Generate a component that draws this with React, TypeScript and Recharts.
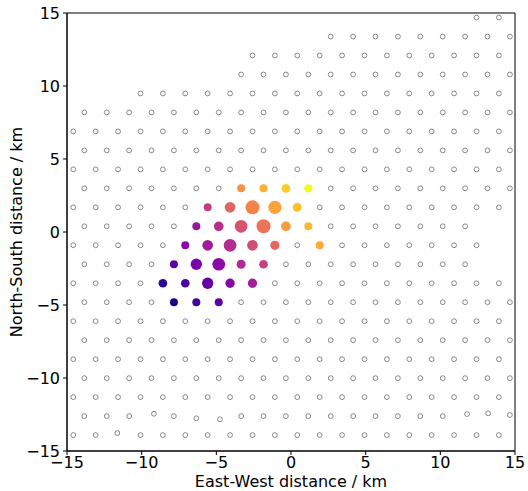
import React from 'react'
import { ScatterChart, Scatter, XAxis, YAxis, ZAxis, Cell, ReferenceArea } from 'recharts'

// lattice columns (km) of the array, odd / even rows are offset by half a step
const oddRowX = [-14.58, -13.08, -11.58, -10.08, -8.58, -7.08, -5.58, -4.08, -2.58, -1.08, 0.42, 1.92, 3.42, 4.92, 6.42, 7.92, 9.42, 10.92, 12.42, 13.92]
const evenRowX = [-13.84, -12.34, -10.84, -9.34, -7.84, -6.34, -4.84, -3.34, -1.84, -0.34, 1.16, 2.66, 4.16, 5.66, 7.16, 8.66, 10.16, 11.66, 13.16, 14.66]

// stations without signal, row by row (north to south)
const stationRows: { y: number; xs: number[] }[] = [
  { y: 14.69, xs: [12.42, 13.92] },
  { y: 13.39, xs: [2.66, 4.16, 5.66, 7.16, 8.66, 10.16, 11.66, 13.16, 14.66] },
  { y: 12.09, xs: [-2.58, -1.08, 0.42, 1.92, 3.42, 4.92, 6.42, 7.92, 9.42, 10.92, 12.42, 13.92] },
  { y: 10.79, xs: [-3.34, -1.84, -0.34, 1.16, 2.66, 4.16, 5.66, 7.16, 8.66, 10.16, 11.66, 13.16, 14.66] },
  { y: 9.49, xs: [-10.08, -8.58, -7.08, -5.58, -4.08, -2.58, -1.08, 0.42, 1.92, 3.42, 4.92, 6.42, 7.92, 9.42, 10.92, 12.42, 13.92] },
  { y: 8.19, xs: evenRowX },
  { y: 6.89, xs: oddRowX },
  { y: 5.59, xs: evenRowX },
  { y: 4.29, xs: oddRowX },
  { y: 2.99, xs: [-13.84, -12.34, -10.84, -9.34, -7.84, -6.34, -4.84, 2.66, 4.16, 5.66, 7.16, 8.66, 10.16, 11.66, 13.16, 14.66] },
  { y: 1.69, xs: [-14.58, -13.08, -11.58, -10.08, -8.58, -7.08, 1.92, 3.42, 4.92, 6.42, 7.92, 9.42, 10.92, 12.42, 13.92] },
  { y: 0.39, xs: [-13.84, -12.34, -10.84, -9.34, -7.84, 2.66, 4.16, 5.66, 7.16, 8.66, 10.16, 11.66] },
  { y: -0.91, xs: [-14.58, -13.08, -11.58, -10.08, -8.58, 0.42, 3.42, 4.92, 6.42, 7.92, 9.42, 10.92, 12.42] },
  { y: -2.21, xs: [-13.84, -12.34, -10.84, -9.34, -0.34, 1.16, 2.66, 4.16, 5.66, 7.16, 8.66, 10.16, 11.66] },
  { y: -3.51, xs: [-14.58, -13.08, -11.58, -10.08, -1.08, 0.42, 1.92, 3.42, 4.92, 6.42, 7.92, 9.42, 10.92, 12.42, 13.92] },
  { y: -4.81, xs: [-13.84, -12.34, -10.84, -9.34, -3.34, -1.84, -0.34, 1.16, 2.66, 4.16, 5.66, 7.16, 8.66, 10.16, 11.66, 13.16, 14.66] },
  { y: -6.11, xs: oddRowX },
  { y: -7.41, xs: evenRowX },
  { y: -8.71, xs: oddRowX },
  { y: -10.01, xs: evenRowX },
  { y: -11.31, xs: oddRowX },
  { y: -12.61, xs: [-13.84, -12.34, -10.84, -7.84, -3.34, -1.84, -0.34, 1.16, 2.66, 4.16, 5.66, 7.16, 8.66, 10.16] },
  { y: -13.91, xs: [-14.58, -13.08, -10.08, -8.58, -7.08, -5.58, -4.08, -2.58, -1.08, 0.42, 1.92, 3.42, 4.92, 6.42, 7.92, 9.42, 10.92, 12.42, 13.92] },
]

// stations slightly off the lattice
const offLattice: [number, number][] = [
  [-9.18, -12.45], [-6.34, -12.76], [-4.76, -12.83], [11.79, -12.47],
  [13.2, -12.42], [14.66, -12.53], [-11.63, -13.77],
]

// triggered stations: x, y (km), arrival value (0..1), amplitude
const hitX = [
  -3.34, -1.84, -0.34, 1.16,
  -5.58, -4.08, -2.58, -1.08, 0.42,
  -6.34, -4.84, -3.34, -1.84, -0.34, 1.16,
  -7.08, -5.58, -4.08, -2.58, -1.08, 1.92,
  -7.84, -6.34, -4.84, -3.34, -1.84,
  -8.58, -7.08, -5.58, -4.08, -2.58,
  -7.84, -6.34, -4.84,
]
const hitY = [
  2.99, 2.99, 2.99, 2.99,
  1.69, 1.69, 1.69, 1.69, 1.69,
  0.39, 0.39, 0.39, 0.39, 0.39, 0.39,
  -0.91, -0.91, -0.91, -0.91, -0.91, -0.91,
  -2.21, -2.21, -2.21, -2.21, -2.21,
  -3.51, -3.51, -3.51, -3.51, -3.51,
  -4.81, -4.81, -4.81,
]
const hitValue = [
  0.74, 0.82, 0.9, 1.0,
  0.47, 0.6, 0.7, 0.79, 0.87,
  0.33, 0.42, 0.54, 0.65, 0.77, 0.84,
  0.28, 0.35, 0.41, 0.52, 0.61, 0.81,
  0.18, 0.24, 0.29, 0.4, 0.48,
  0.06, 0.13, 0.19, 0.27, 0.36,
  0.02, 0.1, 0.17,
]
const hitAmp = [
  1.0, 1.0, 1.18, 1.08,
  1.0, 1.79, 3.06, 2.76, 1.27,
  1.0, 1.47, 2.52, 3.06, 1.47, 1.0,
  1.0, 1.79, 2.52, 1.79, 1.35, 1.0,
  1.0, 2.0, 2.52, 1.27, 1.18,
  1.18, 1.18, 2.0, 1.35, 1.35,
  1.0, 1.0, 1.0,
]

const ticks = [-15, -10, -5, 0, 5, 10, 15]

const plasma = ['#0d0887', '#41049d', '#6a00a8', '#8f0da4', '#b12a90', '#cc4778', '#e16462', '#f2844b', '#fca636', '#fcce25', '#f0f921']

function plasmaColor(v: number) {
  const t = Math.max(0, Math.min(1, v)) * (plasma.length - 1)
  const i = Math.min(Math.floor(t), plasma.length - 2)
  const f = t - i
  const a = plasma[i], b = plasma[i + 1]
  const ch = (s: string, k: number) => parseInt(s.slice(1 + 2 * k, 3 + 2 * k), 16)
  const mix = [0, 1, 2].map(k => Math.round(ch(a, k) + (ch(b, k) - ch(a, k)) * f))
  return `rgb(${mix.join(',')})`
}

const fmt = (v: number) => (v < 0 ? `\u2212${Math.abs(v)}` : `${v}`)

const stations = [
  ...stationRows.flatMap(r => r.xs.map(x => ({ x, y: r.y }))),
  ...offLattice.map(([x, y]) => ({ x, y })),
]
const hits = hitX.map((x, i) => ({ x, y: hitY[i], v: hitValue[i], a: hitAmp[i] }))

const font = 'DejaVu Sans, sans-serif'

const StationMark = (p: any) => (
  <circle cx={p.cx} cy={p.cy} r={2.4} fill="none" stroke="#7a7a7a" strokeWidth={0.9} />
)

const YLabel = (p: any) => {
  const vb = p.viewBox || { x: 0, y: 13, width: 67, height: 438 }
  const cx = vb.x + 22
  const cy = vb.y + vb.height / 2
  return (
    <text x={cx} y={cy} transform={`rotate(-90 ${cx} ${cy})`} textAnchor="middle" fill="#000" fontSize={16} fontFamily={font}>
      North-South distance / km
    </text>
  )
}

const XLabel = (p: any) => {
  const vb = p.viewBox || { x: 67, y: 451, width: 448, height: 40 }
  return (
    <text x={vb.x + vb.width / 2} y={vb.y + 36} textAnchor="middle" fill="#000" fontSize={16} fontFamily={font}>
      East-West distance / km
    </text>
  )
}

export default function App() {
  return (
    <div style={{ position: 'fixed', left: 0, top: 0, width: 528, height: 491, background: '#fff', fontFamily: font }}>
      <ScatterChart width={528} height={491} margin={{ top: 13, right: 13, bottom: 0, left: 0 }}>
        <XAxis
          type="number"
          dataKey="x"
          domain={[-15, 15]}
          ticks={ticks}
          tickFormatter={fmt}
          allowDataOverflow
          height={40}
          tickSize={4}
          tickMargin={2}
          stroke="#000"
          tick={{ fill: '#000', fontSize: 16, fontFamily: font }}
          label={<XLabel />}
        />
        <YAxis
          type="number"
          dataKey="y"
          domain={[-15, 15]}
          ticks={ticks}
          tickFormatter={fmt}
          allowDataOverflow
          width={67}
          tickSize={4}
          tickMargin={3}
          stroke="#000"
          tick={{ fill: '#000', fontSize: 16, fontFamily: font }}
          label={<YLabel />}
        />
        <ZAxis type="number" dataKey="a" domain={[0, 4]} range={[0, 201]} />
        <ReferenceArea x1={-15} x2={15} y1={-15} y2={15} fill="none" stroke="#000" strokeWidth={1} />
        <Scatter data={stations} shape={StationMark} isAnimationActive={false} />
        <Scatter data={hits} isAnimationActive={false}>
          {hits.map((h, i) => (
            <Cell key={i} fill={plasmaColor(h.v)} />
          ))}
        </Scatter>
      </ScatterChart>
    </div>
  )
}
